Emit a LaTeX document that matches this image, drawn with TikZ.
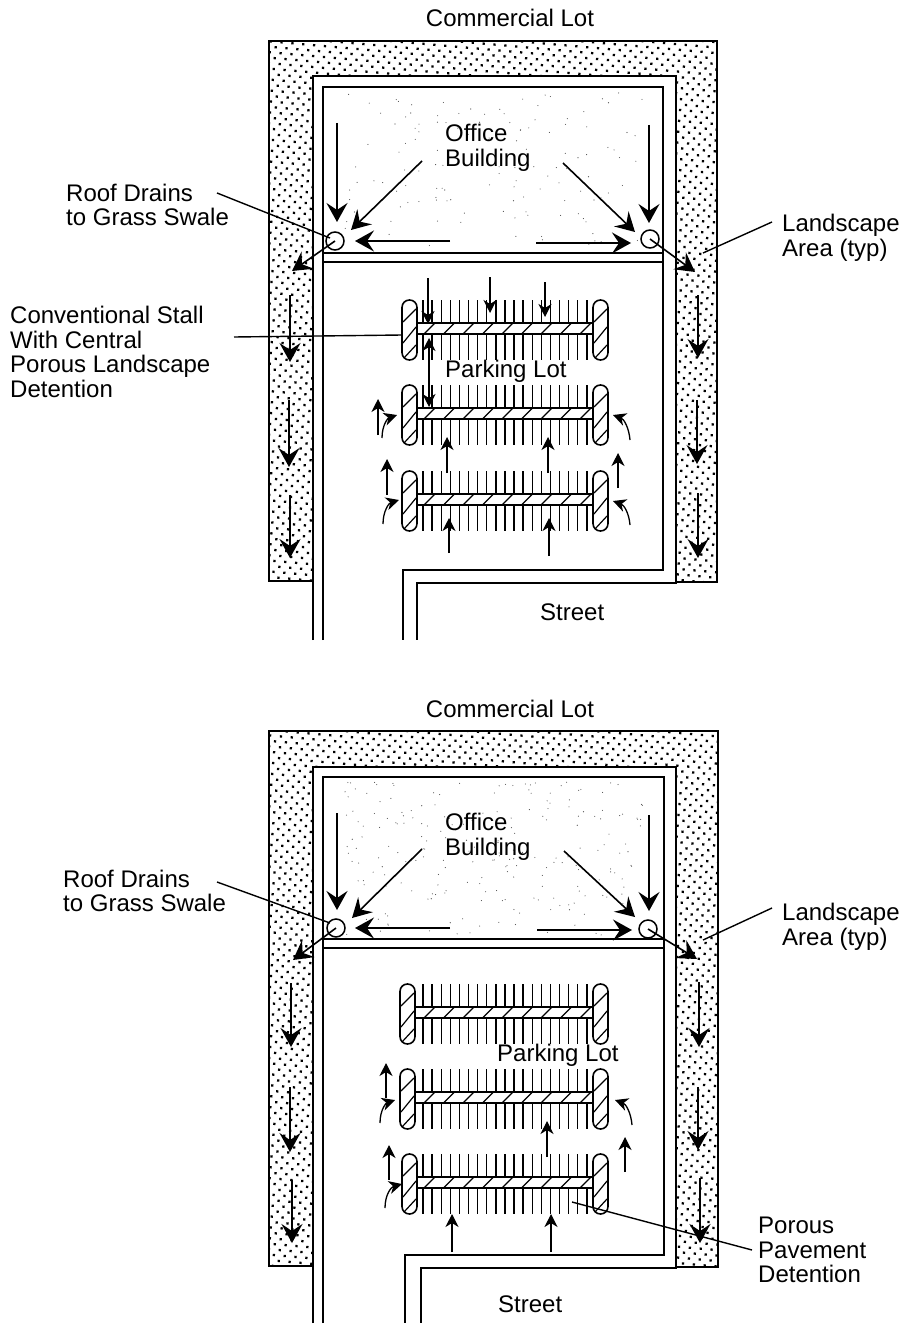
\documentclass[tikz,border=0pt]{standalone}
\usepackage{fontspec}
\setmainfont{Liberation Sans}
\usetikzlibrary{arrows.meta, patterns.meta}
\newcommand{\parkrow}[2]{% left end of island, top of stalls
    \foreach \sx in {0,...,18} \draw [stall] ({423+9.1*\sx},#2) -- ++(0,60);
    \draw [island] (#1+14,#2+23) rectangle (593,#2+34);
    \foreach \sx in {0,...,8} \draw [hatch] ({424+19.5*\sx},#2+34) -- ++(11,-11);
    \draw [island, rounded corners=7.4pt] (#1,#2) rectangle ++(15,60);
    \draw [island, rounded corners=7.4pt] (593,#2) rectangle ++(15,60);
    \foreach \ox in {#1,593} {
        \draw [hatch] (\ox+1,#2+22) -- (\ox+14,#2+9);
        \draw [hatch] (\ox+1,#2+43) -- (\ox+14,#2+27);
        \draw [hatch] (\ox+2,#2+58) -- (\ox+14,#2+45);
    }
}
\newcommand{\speckle}[3]{% count, top, bottom of the building
    \foreach \i in {1,...,#1} {
        \pgfmathsetmacro{\px}{345+300*rnd}
        \pgfmathsetmacro{\py}{#2+(#3-#2)*rnd}
        \fill [black!70] (\px,\py) circle (0.55);
    }
}
\begin{document}
\begin{tikzpicture}[x=1pt, y=-1pt, >={Stealth[length=13pt,width=13pt,inset=4pt]}]
    \tikzstyle{label} = [font=\fontsize{24}{24.5}\selectfont, align=left, inner sep=0pt, anchor=west]
    \tikzstyle{swale} = [draw, line width=1.2pt, pattern={Dots[radius=1.6pt,distance=7.7pt,angle=40]}]
    \tikzstyle{road} = [draw, line width=2.7pt, line join=miter]
    \tikzstyle{stall} = [draw, line width=1.4pt]
    \tikzstyle{island} = [draw, fill=white, line width=1.6pt]
    \tikzstyle{hatch} = [draw, line width=1.2pt]
    \tikzstyle{drain} = [draw, circle, line width=1.5pt, minimum size=18pt, inner sep=0pt]
    \tikzstyle{leader} = [draw, line width=1.4pt]
    \tikzstyle{bigflow} = [draw, line width=1.6pt, -{Stealth[length=19pt,width=21pt,inset=7pt]}]
    \tikzstyle{smallflow} = [draw, line width=1.3pt, ->]

    \useasboundingbox (0,0) rectangle (904,1324);

    % upper lot
    \pgfmathsetseed{11}
    \speckle{130}{92}{248}
    \draw [swale] (269,41) -- (717,41) -- (717,582) -- (676,582) -- (676,76) -- (313,76) -- (313,581) -- (269,581) -- cycle;
    \draw [road] (313,640) -- (313,76) -- (676,76) -- (676,583) -- (417,583) -- (417,640);
    \draw [road] (323,640) -- (323,87) -- (663,87) -- (663,570) -- (403,570) -- (403,640);
    \draw [road] (323,253) -- (663,253);
    \draw [road] (323,262) -- (663,262);
    \parkrow{402}{300}
    \parkrow{402}{385}
    \parkrow{402}{471}

    \node [label, anchor=center] (lotA) at (510,18) {Commercial Lot};
    \node [label] (officeA) at (445,148) {Office\\Building};
    \node [label] (roofA) at (66,205) {Roof Drains\\to Grass Swale};
    \node [label] (landA) at (782,238) {Landscape\\Area (typ)};
    \node [label] (stallA) at (10,352) {Conventional Stall\\With Central\\Porous Landscape\\Detention};
    \node [label] (parkA) at (445,371) {Parking Lot};
    \node [label] (streetA) at (540,612) {Street};
    \node [drain] (drainA) at (335,241) {};
    \node [drain] (drainB) at (650,239) {};

    \coordinate (roofTipA) at (217,193);
    \coordinate (landTipA) at (772,222);
    \coordinate (stallTipA) at (234,337);
    \draw [leader] (roofTipA) -- (330,238);
    \draw [leader] (landTipA) -- (703,253);
    \draw [leader] (stallTipA) -- (402,335);

    \foreach \ax/\ay/\bx/\by in {337/123/337/222, 422/161/351/230, 450/241/355/241, 649/125/649/223, 563/163/635/232, 536/243/631/243, 290/295/290/362, 289/400/289/467, 290/495/290/558, 698/295/698/358, 697/400/697/464, 698/493/698/558}
        \draw [bigflow] (\ax,\ay) -- (\bx,\by);
    \draw [bigflow] (drainA.center) -- (292,271);
    \draw [bigflow] (drainB.center) -- (695,272);

    \foreach \ax/\ay/\bx/\by in {428/278/428/324, 490/277/490/313, 545/282/545/317, 378/435/378/399, 387/495/387/459, 618/488/618/453, 447/473/447/437, 548/473/548/437, 449/553/449/518, 549/556/549/518}
        \draw [smallflow] (\ax,\ay) -- (\bx,\by);
    \draw [smallflow, <->] (429,338) -- (429,407);
    \draw [smallflow] (382,438) .. controls (382,425) and (388,418) .. (397,415);
    \draw [smallflow] (383,524) .. controls (383,511) and (389,503) .. (399,500);
    \draw [smallflow] (630,440) .. controls (629,428) and (624,419) .. (613,415);
    \draw [smallflow] (630,525) .. controls (629,513) and (624,505) .. (613,501);

    % lower lot
    \speckle{220}{782}{935}
    \draw [swale] (269,731) -- (718,731) -- (718,1267) -- (676,1267) -- (676,767) -- (313,767) -- (313,1266) -- (269,1266) -- cycle;
    \draw [road] (313,1323) -- (313,767) -- (676,767) -- (676,1268) -- (421,1268) -- (421,1323);
    \draw [road] (323,1323) -- (323,777) -- (664,777) -- (664,1255) -- (405,1255) -- (405,1323);
    \draw [road] (323,939) -- (664,939);
    \draw [road] (323,948) -- (664,948);
    \parkrow{400}{984}
    \parkrow{400}{1069}
    \parkrow{402}{1154}

    \node [label, anchor=center] (lotB) at (510,709) {Commercial Lot};
    \node [label] (officeB) at (445,837) {Office\\Building};
    \node [label] (roofB) at (63,891) {Roof Drains\\to Grass Swale};
    \node [label] (landB) at (782,927) {Landscape\\Area (typ)};
    \node [label] (parkB) at (497,1055) {Parking Lot};
    \node [label] (pavB) at (758,1250) {Porous\\Pavement\\Detention};
    \node [label] (streetB) at (498,1304) {Street};
    \node [drain] (drainC) at (336,928) {};
    \node [drain] (drainD) at (648,929) {};

    \coordinate (roofTipB) at (217,882);
    \coordinate (landTipB) at (772,908);
    \coordinate (pavTipB) at (752,1250);
    \draw [leader] (roofTipB) -- (330,923);
    \draw [leader] (landTipB) -- (703,940);
    \draw [leader] (pavTipB) -- (572,1202);

    \foreach \ax/\ay/\bx/\by in {337/813/337/910, 422/849/352/918, 450/928/355/928, 649/815/649/911, 564/851/635/917, 537/930/632/930, 291/983/291/1047, 290/1087/290/1152, 292/1180/292/1243, 699/982/699/1047, 698/1087/698/1150, 700/1178/700/1243}
        \draw [bigflow] (\ax,\ay) -- (\bx,\by);
    \draw [bigflow] (drainC.center) -- (293,960);
    \draw [bigflow] (drainD.center) -- (697,959);

    \foreach \ax/\ay/\bx/\by in {386/1098/386/1063, 389/1180/389/1145, 625/1172/625/1137, 547/1157/547/1121, 452/1252/452/1214, 551/1252/551/1214}
        \draw [smallflow] (\ax,\ay) -- (\bx,\by);
    \draw [smallflow] (380,1123) .. controls (380,1110) and (386,1103) .. (395,1100);
    \draw [smallflow] (385,1208) .. controls (385,1195) and (391,1187) .. (402,1184);
    \draw [smallflow] (632,1125) .. controls (631,1113) and (626,1104) .. (615,1100);
\end{tikzpicture}
\end{document}
